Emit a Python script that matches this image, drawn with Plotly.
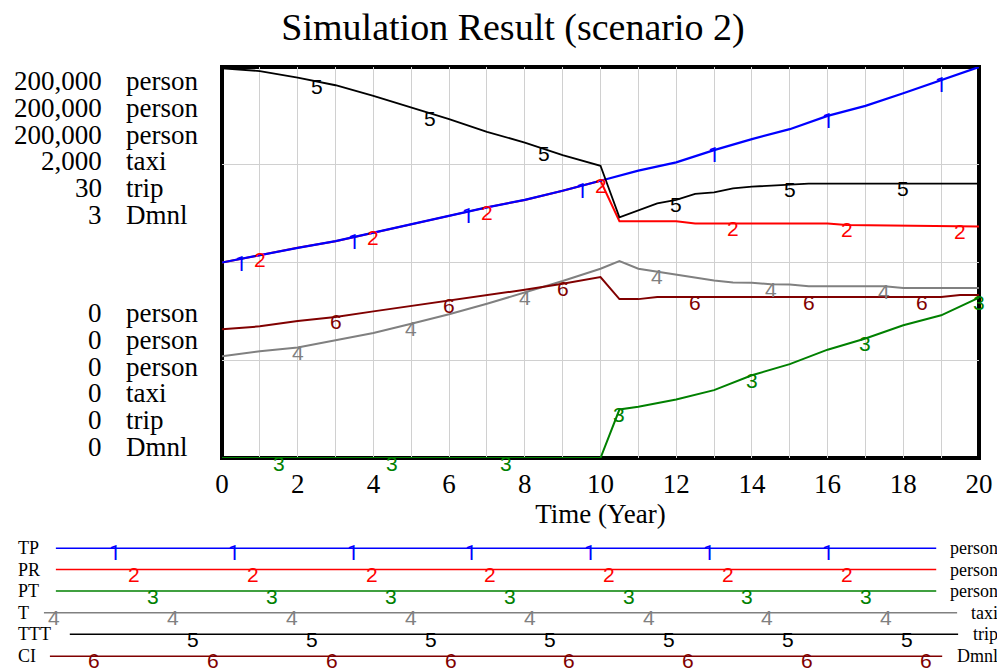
import numpy as np
import plotly.graph_objects as go

# ---------------- data ----------------
time_tp = [0, 1, 2, 3, 4, 5, 6, 7, 8, 9, 10, 11, 12, 13, 14, 15, 16, 17, 18, 19, 20]
tp = [100000, 103900, 107500, 110900, 115300, 119400, 124000, 128200, 132000, 136700,
      141800, 147000, 151200, 157500, 163100, 168200, 175000, 180100, 186600, 193400, 200000]

time_pr = [0, 1, 2, 3, 4, 5, 6, 7, 8, 9, 10, 10.5, 12, 12.5, 16, 16.5, 20]
pr = [100000, 103900, 107500, 110900, 115300, 119400, 124000, 128200, 132000, 136700,
      141800, 121100, 121100, 120000, 120000, 119200, 118400]

time_pt = [0, 10, 10.5, 11, 12, 13, 14, 15, 16, 17, 18, 19, 20]
pt = [0, 0, 24800, 26200, 29900, 34700, 42300, 48000, 55400, 61100, 67900, 73000, 82000]

time_t = [0, 1, 2, 3, 4, 5, 6, 7, 8, 9, 10, 10.5, 11, 12, 12.5, 13, 13.5, 14, 14.5, 15, 15.5, 17.5, 18, 20]
taxi = [520, 546, 565, 602, 639, 687, 735, 789, 845, 905, 968, 1007, 968, 937, 925, 908, 898,
        897, 889, 888, 879, 879, 869, 869]

time_ttt = [0, 1, 2, 3, 4, 5, 6, 7, 8, 9, 10, 10.5, 11, 11.5, 12, 12.5, 13, 13.5, 14, 15, 15.5, 20]
ttt = [29.9, 29.69, 29.18, 28.6, 27.78, 26.89, 26.0, 25.03, 24.2, 23.24, 22.42, 18.47, 18.98,
       19.54, 19.8, 20.26, 20.38, 20.69, 20.82, 20.95, 21.05, 21.05]

time_ci = [0, 1, 2, 3, 4, 5, 6, 7, 8, 9, 10, 10.5, 11, 11.5, 19, 19.5, 20]
ci = [0.987, 1.010, 1.051, 1.082, 1.125, 1.166, 1.209, 1.247, 1.291, 1.337, 1.388, 1.219,
      1.219, 1.235, 1.235, 1.25, 1.25]

series_names = ["TP", "PR", "PT", "T", "TTT", "CI"]
series_units = ["person", "person", "person", "taxi", "trip", "Dmnl"]
scale_max_labels = ["200,000", "200,000", "200,000", "2,000", "30", "3"]
scale_min_labels = ["0", "0", "0", "0", "0", "0"]
x_ticks = list(range(0, 21))
x_ticktext = [str(v) if v % 2 == 0 else "" for v in x_ticks]

# ---------------- style / layout ----------------
OFF = 8                                   # page body margin
W, H = 1005 - OFF, 671 - OFF
L, R, T, B = 222, 983, 67, 458            # plot area in window pixels
def xp(px):
    return (px - L) / (R - L)
def yp(py):
    return (B - py) / (B - T)

colors = ["#0000FF", "#FF0000", "#008000", "#808080", "#000000", "#800000"]
serif = "Liberation Serif, Times New Roman, serif"
sans = "Liberation Sans, Arial, sans-serif"
num_fonts = ["Roboto, Liberation Sans, sans-serif"] + [sans] * 5

series = [
    (time_tp, tp, "y"), (time_pr, pr, "y"), (time_pt, pt, "y"),
    (time_t, taxi, "y2"), (time_ttt, ttt, "y3"), (time_ci, ci, "y4"),
]
label_times = [
    [0.5, 3.5, 6.5, 9.5, 13.0, 16.0, 19.0],
    [1.0, 4.0, 7.0, 10.0, 13.5, 16.5, 19.5],
    [1.5, 4.5, 7.5, 10.5, 14.0, 17.0, 20.0],
    [2.0, 5.0, 8.0, 11.5, 14.5, 17.5],
    [2.5, 5.5, 8.5, 12.0, 15.0, 18.0],
    [3.0, 6.0, 9.0, 12.5, 15.5, 18.5],
]
widths = [2.2, 2, 2, 2, 1.8, 2]

fig = go.Figure()
# draw in reverse so series 1 ends on top
for i in reversed(range(6)):
    tx, vy, ya = series[i]
    fig.add_trace(go.Scatter(x=tx, y=vy, yaxis=ya, mode="lines",
                             line=dict(color=colors[i], width=widths[i]),
                             name=series_names[i], showlegend=False, hoverinfo="skip"))

annotations = []
# numbered labels on curves
for i in range(6):
    tx, vy, ya = series[i]
    for t in label_times[i]:
        v = float(np.interp(t, tx, vy))
        annotations.append(dict(x=t, y=v, xref="x", yref=ya, text=str(i + 1), showarrow=False,
                                font=dict(family=num_fonts[i], size=21, color=colors[i]),
                                xanchor="center", yanchor="middle", yshift=-5))

# left scale labels
for k in range(6):
    yt = 81.3 + k * 26.7
    yb = 313.3 + k * 26.7
    for yy, num in ((yt, scale_max_labels[k]), (yb, scale_min_labels[k])):
        annotations.append(dict(x=xp(103), y=yp(yy), xref="paper", yref="paper", text=num,
                                showarrow=False, xanchor="right", yanchor="middle",
                                font=dict(family=serif, size=27, color="black")))
        annotations.append(dict(x=xp(123), y=yp(yy), xref="paper", yref="paper",
                                text=series_units[k], showarrow=False, xanchor="left",
                                yanchor="middle", font=dict(family=serif, size=27, color="black")))

# bottom legend
leg_y = [548.3, 569.5, 591, 612.8, 634.3, 656.3]
leg_x0 = [55, 55, 55, 43, 69, 49]
leg_x1 = [940, 940, 940, 961, 962, 946]
leg_first = [114.3, 133.3, 152.7, 53.3, 193.3, 93.3]
leg_count = [7, 7, 7, 8, 7, 8]
leg_shift = [-5, -5, -5, -5, -5, -4]
shapes = []
for k in range(6):
    shapes.append(dict(type="line", xref="paper", yref="paper", x0=xp(leg_x0[k]), x1=xp(leg_x1[k]),
                       y0=yp(leg_y[k]), y1=yp(leg_y[k]), line=dict(color=colors[k], width=1.6)))
    annotations.append(dict(x=xp(15), y=yp(leg_y[k]), xref="paper", yref="paper",
                            text=series_names[k], showarrow=False, xanchor="left", yanchor="middle",
                            font=dict(family=serif, size=18, color="black")))
    annotations.append(dict(x=xp(1004), y=yp(leg_y[k]), xref="paper", yref="paper",
                            text=series_units[k], showarrow=False, xanchor="right", yanchor="middle",
                            font=dict(family=serif, size=18, color="black")))
    for j in range(leg_count[k]):
        px_ = leg_first[k] + j * 119.5
        annotations.append(dict(x=xp(px_), y=yp(leg_y[k]), xref="paper", yref="paper",
                                text=str(k + 1), showarrow=False, xanchor="center", yanchor="middle",
                                yshift=leg_shift[k],
                                font=dict(family=num_fonts[k], size=21, color=colors[k])))

# plot frame
shapes.append(dict(type="rect", xref="paper", yref="paper", x0=0, x1=1, y0=0, y1=1,
                   line=dict(color="black", width=4), layer="between"))

grid = "#d0d0d0"
fig.update_layout(
    width=W, height=H,
    margin=dict(l=L - OFF, r=1005 - R, t=T - OFF, b=671 - B, pad=0),
    paper_bgcolor="white", plot_bgcolor="white",
    title=dict(text="Simulation Result (scenario 2)", x=(513 - OFF) / W, xanchor="center",
               y=1 - (27 - OFF) / H, yanchor="middle",
               font=dict(family=serif, size=38, color="black")),
    xaxis=dict(range=[0, 20], tickvals=x_ticks, ticktext=x_ticktext, showgrid=True,
               gridcolor=grid, gridwidth=1, zeroline=False, showline=False, ticks="",
               ticklabelstandoff=7,
               tickfont=dict(family=serif, size=27, color="black"),
               title=dict(text="Time (Year)", font=dict(family=serif, size=27, color="black"),
                          standoff=5)),
    yaxis=dict(range=[0, 200000], dtick=50000, showgrid=True, gridcolor=grid, gridwidth=1,
               zeroline=False, showline=False, showticklabels=False, ticks=""),
    yaxis2=dict(range=[0, 2000], overlaying="y", visible=False),
    yaxis3=dict(range=[0, 30], overlaying="y", visible=False),
    yaxis4=dict(range=[0, 3], overlaying="y", visible=False),
    annotations=annotations,
    shapes=shapes,
    showlegend=False,
)

fig.write_html("out.html")
